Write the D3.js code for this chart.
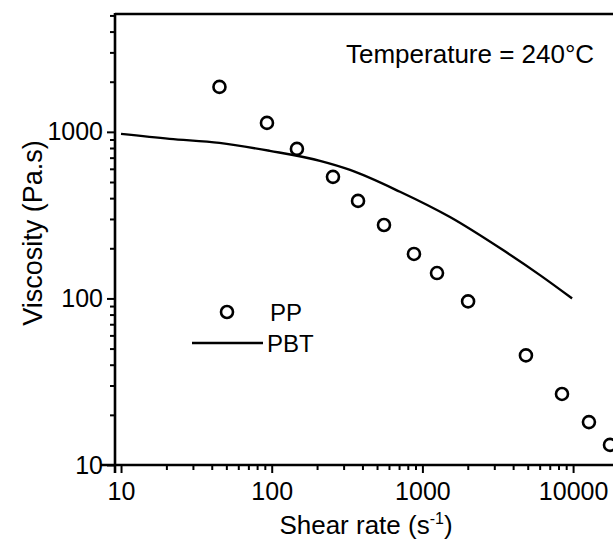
<!DOCTYPE html>
<html>
<head>
<meta charset="utf-8">
<script src="https://cdn.jsdelivr.net/npm/d3@7"></script>
<style>
  html, body { margin: 0; padding: 0; background: #fff; }
  svg { display: block; font-family: "Liberation Sans", Arial, Helvetica, sans-serif; }
</style>
</head>
<body>
<svg id="chart" width="613" height="543"></svg>
<script>
// ---- data ----
const ppShearRate = [45, 93, 147, 255, 374, 556, 879, 1250, 2010, 4865, 8440, 12740, 17580];
const ppViscosity = [1862, 1132, 790, 537, 385, 276, 185, 142, 96, 45.5, 26.7, 18.1, 13.2];

const pbtShearRate = [10, 21, 45, 97, 209, 331, 710, 1524, 3428, 6030, 9840];
const pbtViscosity = [972, 908, 859, 769, 670, 591, 437, 308, 195, 138, 100];

const xTickValues = [10, 100, 1000, 10000];
const yTickValues = [10, 100, 1000];
const xTickLabels = ["10", "100", "1000", "10000"];
const yTickLabels = ["10", "100", "1000"];

const xDomain = [9.12, 27800];
const yDomain = [10, 5100];

const annotation = "Temperature = 240°C";
const legendLabels = ["PP", "PBT"];

(function () {
// ---- layout ----
const svg = d3.select("#chart");
const mLeft = 115, mTop = 14, mBottom = 465, mRight = 640;

const x = d3.scaleLog().domain(xDomain).range([mLeft, mRight]);
const y = d3.scaleLog().domain(yDomain).range([mBottom, mTop]);

const axisStroke = 2.6;

// minor tick values
const xMinor = [];
for (const d of [10, 100, 1000, 10000]) for (let k = 2; k <= 9; k++) { const v = d * k; if (v <= xDomain[1]) xMinor.push(v); }
const yMinor = [];
for (const d of [10, 100, 1000]) for (let k = 2; k <= 9; k++) { const v = d * k; if (v <= yDomain[1]) yMinor.push(v); }

// frame: top line
svg.append("line")
  .attr("x1", mLeft).attr("x2", mRight)
  .attr("y1", mTop).attr("y2", mTop)
  .attr("stroke", "#000").attr("stroke-width", axisStroke);

// x axis
const xAxisMajor = d3.axisBottom(x).tickValues(xTickValues)
  .tickFormat((d, i) => xTickLabels[i]).tickSizeInner(8).tickSizeOuter(0).tickPadding(6);
const gx = svg.append("g").attr("transform", `translate(0,${mBottom})`).call(xAxisMajor);
gx.select(".domain").attr("stroke-width", axisStroke).attr("d", `M${mLeft - 14},0H${mRight}`);
gx.selectAll(".tick line").attr("stroke-width", 2);
gx.selectAll(".tick text").attr("font-size", 25).attr("fill", "#000").attr("dy", "0.85em");

const gxm = svg.append("g").attr("transform", `translate(0,${mBottom})`)
  .call(d3.axisBottom(x).tickValues(xMinor).tickFormat("").tickSizeInner(5).tickSizeOuter(0));
gxm.select(".domain").remove();
gxm.selectAll(".tick line").attr("stroke-width", 2);

// y axis
const yAxisMajor = d3.axisLeft(y).tickValues(yTickValues)
  .tickFormat((d, i) => yTickLabels[i]).tickSizeInner(8).tickSizeOuter(0).tickPadding(4);
const gy = svg.append("g").attr("transform", `translate(${mLeft},0)`).call(yAxisMajor);
gy.select(".domain").attr("stroke-width", axisStroke).attr("d", `M0,${mBottom + 8}V${mTop - 1}`);
gy.selectAll(".tick line").attr("stroke-width", 2);
gy.selectAll(".tick text").attr("font-size", 25).attr("fill", "#000");

const gym = svg.append("g").attr("transform", `translate(${mLeft},0)`)
  .call(d3.axisLeft(y).tickValues(yMinor).tickFormat("").tickSizeInner(5).tickSizeOuter(0));
gym.select(".domain").remove();
gym.selectAll(".tick line").attr("stroke-width", 2);

// axis titles
const xt = svg.append("text")
  .attr("x", 366).attr("y", 534)
  .attr("text-anchor", "middle").attr("font-size", 26).attr("fill", "#000");
xt.append("tspan").text("Shear rate (s");
xt.append("tspan").text("-1").attr("font-size", 16).attr("dy", -10);
xt.append("tspan").text(")").attr("dy", 10);

svg.append("text")
  .attr("transform", `translate(42,233) rotate(-90)`)
  .attr("text-anchor", "middle").attr("font-size", 27).attr("fill", "#000")
  .text("Viscosity (Pa.s)");

// plot clip
svg.append("clipPath").attr("id", "plotclip")
  .append("rect").attr("x", mLeft).attr("y", mTop).attr("width", mRight - mLeft).attr("height", mBottom - mTop);

const plot = svg.append("g").attr("clip-path", "url(#plotclip)");

// PBT line
const pbtData = pbtShearRate.map((d, i) => [d, pbtViscosity[i]]);
plot.append("path")
  .datum(pbtData)
  .attr("fill", "none").attr("stroke", "#000").attr("stroke-width", 2.4)
  .attr("d", d3.line().x(d => x(d[0])).y(d => y(d[1])).curve(d3.curveMonotoneX));

// PP circles
const ppData = ppShearRate.map((d, i) => [d, ppViscosity[i]]);
svg.append("g").selectAll("circle").data(ppData).join("circle")
  .attr("cx", d => x(d[0])).attr("cy", d => y(d[1])).attr("r", 6)
  .attr("fill", "none").attr("stroke", "#000").attr("stroke-width", 2.6);

// annotation
svg.append("text").attr("x", 346).attr("y", 63)
  .attr("font-size", 26).attr("fill", "#000").text(annotation);

// legend
svg.append("circle").attr("cx", 227).attr("cy", 312).attr("r", 6)
  .attr("fill", "none").attr("stroke", "#000").attr("stroke-width", 2.6);
svg.append("text").attr("x", 270).attr("y", 321).attr("font-size", 24).attr("fill", "#000").text(legendLabels[0]);
svg.append("line").attr("x1", 192).attr("x2", 263).attr("y1", 343).attr("y2", 343)
  .attr("stroke", "#000").attr("stroke-width", 2.4);
svg.append("text").attr("x", 267).attr("y", 352).attr("font-size", 24).attr("fill", "#000").text(legendLabels[1]);
})();
</script>
</body>
</html>
